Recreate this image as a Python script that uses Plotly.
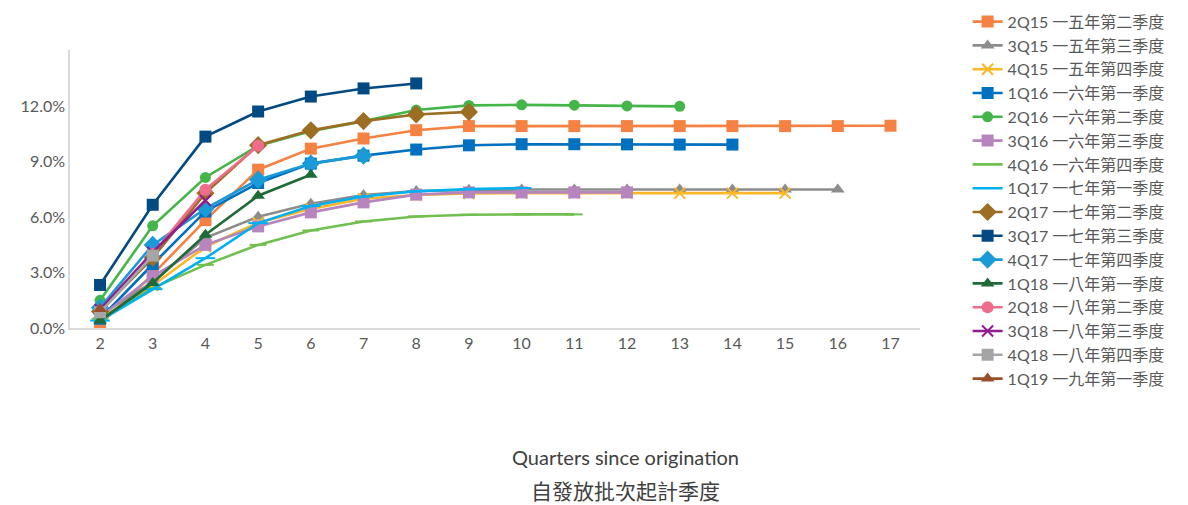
import plotly.graph_objects as go

# ---- data (fractions) ----
series_names = [
    "2Q15 一五年第二季度", "3Q15 一五年第三季度", "4Q15 一五年第四季度",
    "1Q16 一六年第一季度", "2Q16 一六年第二季度", "3Q16 一六年第三季度",
    "4Q16 一六年第四季度", "1Q17 一七年第一季度", "2Q17 一七年第二季度",
    "3Q17 一七年第三季度", "4Q17 一七年第四季度", "1Q18 一八年第一季度",
    "2Q18 一八年第二季度", "3Q18 一八年第三季度", "4Q18 一八年第四季度",
    "1Q19 一九年第一季度",
]
quarters = list(range(2, 18))

v_2q15 = [0.2, 2.9, 5.84, 8.57, 9.71, 10.26, 10.71, 10.93, 10.93, 10.93, 10.93, 10.93, 10.93, 10.93, 10.93, 10.95]
v_3q15 = [0.7, 2.5, 4.88, 6.02, 6.73, 7.2, 7.42, 7.48, 7.5, 7.5, 7.5, 7.5, 7.5, 7.5, 7.5]
v_4q15 = [0.5, 2.3, 4.4, 5.7, 6.45, 7.0, 7.2, 7.28, 7.3, 7.3, 7.3, 7.3, 7.3, 7.3]
v_1q16 = [0.5, 3.45, 6.31, 7.85, 8.9, 9.33, 9.66, 9.89, 9.95, 9.95, 9.94, 9.93, 9.93]
v_2q16 = [1.5, 5.53, 8.15, 9.87, 10.65, 11.2, 11.8, 12.05, 12.08, 12.06, 12.02, 12.0]
v_3q16 = [0.6, 2.8, 4.5, 5.5, 6.26, 6.8, 7.22, 7.34, 7.34, 7.34, 7.34]
v_4q16 = [0.5, 2.17, 3.42, 4.5, 5.28, 5.77, 6.04, 6.13, 6.15, 6.15]
v_1q17 = [0.4, 2.1, 3.78, 5.68, 6.6, 7.12, 7.4, 7.52, 7.58]
v_2q17 = [0.9, 3.8, 7.3, 9.9, 10.7, 11.2, 11.56, 11.7]
v_3q17 = [2.33, 6.67, 10.36, 11.72, 12.53, 12.97, 13.24]
v_4q17 = [1.1, 4.5, 6.46, 8.03, 8.9, 9.33]
v_1q18 = [0.4, 2.44, 5.05, 7.16, 8.3]
v_2q18 = [0.9, 4.0, 7.49, 9.87]
v_3q18 = [1.0, 4.1, 6.9]
v_4q18 = [0.85, 3.92]
v_1q19 = [1.03]

values = [v_2q15, v_3q15, v_4q15, v_1q16, v_2q16, v_3q16, v_4q16, v_1q17,
          v_2q17, v_3q17, v_4q17, v_1q18, v_2q18, v_3q18, v_4q18, v_1q19]

y_ticks = [0, 0.03, 0.06, 0.09, 0.12]
y_tick_labels = ["0.0%", "3.0%", "6.0%", "9.0%", "12.0%"]
x_title = "Quarters since origination"
x_title_zh = "自發放批次起計季度"

# ---- styles ----
colors = ["#F58142", "#8C8C8C", "#FBB726", "#0070C0", "#44B549", "#B685BE",
          "#71BF4F", "#00B0F0", "#9B6E23", "#044A82", "#1A9BD7", "#1E6B37",
          "#EE6D8B", "#921C8E", "#A5A5A5", "#9A4F2A"]
symbols = ["square", "triangle-up", "x-thin", "square", "circle", "square",
           "line-ew", "line-ew", "diamond", "square", "diamond", "triangle-up",
           "circle", "x-thin", "square", "triangle-up"]
sizes = [12, 12, 11, 12, 11, 12, 12, 14, 14, 12, 14, 12, 12, 11, 12, 12]
legend_marker = [True, True, True, True, True, True, False, False,
                 True, True, True, True, True, True, True, True]

FONT = "Lato, 'Noto Sans CJK TC', sans-serif"
TXT = "#595959"

fig = go.Figure()
for i, (name, vals) in enumerate(zip(series_names, values)):
    xs = quarters[:len(vals)]
    ys = [v / 100 for v in vals]
    sym = symbols[i]
    line_marker = sym in ("line-ew", "x-thin")
    marker = dict(symbol=sym, size=sizes[i], color=colors[i],
                  line=dict(color=colors[i], width=2 if line_marker else 0))
    fig.add_trace(go.Scatter(
        x=xs, y=ys, name=name, mode="lines+markers",
        legendgroup=f"g{i}", legendrank=i + 1,
        showlegend=legend_marker[i],
        line=dict(color=colors[i], width=2.6),
        marker=marker,
    ))
    if not legend_marker[i]:
        # legend entry drawn as plain line (no marker), as in the original
        fig.add_trace(go.Scatter(
            x=[None], y=[None], name=name, mode="lines",
            legendgroup=f"g{i}", legendrank=i + 1, showlegend=True,
            line=dict(color=colors[i], width=2.6), hoverinfo="skip",
        ))

fig.update_layout(
    width=1188, height=505,
    margin=dict(l=70, r=268, t=50, b=177, autoexpand=False),
    paper_bgcolor="white", plot_bgcolor="white",
    font=dict(family=FONT, color=TXT, size=16),
    showlegend=True,
    legend=dict(x=1.056, y=1.163, xanchor="left", yanchor="top",
                font=dict(family=FONT, size=16, color=TXT),
                tracegroupgap=0, bgcolor="rgba(0,0,0,0)", maxheight=500),
    xaxis=dict(range=[1.43, 17.56], tickvals=quarters,
               ticktext=[str(q) for q in quarters],
               showgrid=False, zeroline=False, showline=True,
               linecolor="#D9D9D9", linewidth=1.5, ticks="",
               tickfont=dict(size=16, color=TXT)),
    yaxis=dict(range=[0, 0.1505], tickvals=y_ticks, ticktext=y_tick_labels,
               showgrid=False, zeroline=False, showline=True,
               linecolor="#D9D9D9", linewidth=1.5, ticks="",
               tickfont=dict(size=16, color=TXT)),
    annotations=[
        dict(text=x_title, xref="paper", yref="paper", x=0.654, y=-0.464,
             xanchor="center", yanchor="middle",
             showarrow=False, font=dict(size=20, color="#404040", family=FONT)),
        dict(text=x_title_zh, xref="paper", yref="paper", x=0.654, y=-0.585,
             xanchor="center", yanchor="middle",
             showarrow=False, font=dict(size=21, color="#404040", family=FONT)),
    ],
)

fig.write_html("out.html", config={"displayModeBar": False},
               post_script="document.body.style.margin='0';")
